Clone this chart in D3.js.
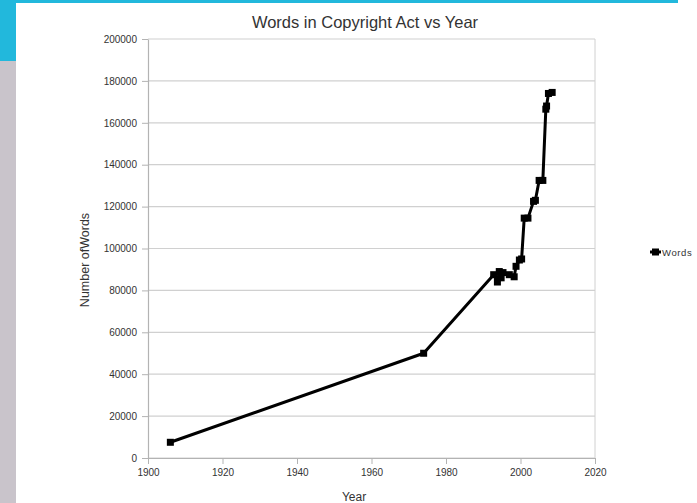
<!DOCTYPE html>
<html>
<head>
<meta charset="utf-8">
<script src="https://cdn.jsdelivr.net/npm/d3@7"></script>
<style>
  body { margin: 0; background: #fff; }
  svg { display: block; font-family: "Liberation Sans", Arial, sans-serif; }
</style>
</head>
<body>
<svg width="697" height="503"></svg>
<script>
// data
const years = [1906, 1974, 1992.8, 1993.8, 1994.3, 1994.8, 1995.3, 1997.0, 1998.3, 1998.8, 1999.7, 2000.3,
               2001.0, 2002.0, 2003.5, 2004.0, 2005.0, 2006.0, 2006.8, 2007.0, 2007.5, 2008.5]
const words = [7500, 50000, 87500, 84000, 89000, 86000, 88500, 87500, 86500, 91500, 94500, 95000,
               114500, 114500, 122500, 123000, 132500, 132500, 166500, 168000, 174000, 174500]
const xTicks = [1900, 1920, 1940, 1960, 1980, 2000, 2020]
const yTicks = [0, 20000, 40000, 60000, 80000, 100000, 120000, 140000, 160000, 180000, 200000]

const points = years.map((y, i) => ({ year: y, words: words[i] }))

const svg = d3.select('svg')

// page decoration around the chart
svg.append('rect').attr('x', 0).attr('y', 0).attr('width', 678).attr('height', 3).attr('fill', '#22b8dc')
svg.append('rect').attr('x', 0).attr('y', 0).attr('width', 16).attr('height', 61).attr('fill', '#22b8dc')
svg.append('rect').attr('x', 0).attr('y', 61).attr('width', 16).attr('height', 442).attr('fill', '#c9c4cb')

const x = d3.scaleLinear().domain([1900, 2020]).range([148, 595])
const y = d3.scaleLinear().domain([0, 200000]).range([458, 39])

// grid
svg.append('g')
    .selectAll('line')
    .data(yTicks)
    .enter()
    .append('line')
    .attr('x1', x(1900)).attr('x2', x(2020))
    .attr('y1', d => y(d)).attr('y2', d => y(d))
    .attr('stroke', '#d0d0d0')
    .attr('stroke-width', 1.2)

// right border
svg.append('line')
    .attr('x1', x(2020)).attr('x2', x(2020))
    .attr('y1', y(200000)).attr('y2', y(0))
    .attr('stroke', '#d0d0d0')

const yAxis = svg.append('g')
    .attr('transform', `translate(${x(1900)},0)`)
    .call(d3.axisLeft(y).tickValues(yTicks).tickFormat(d3.format('d')).tickSize(6).tickSizeOuter(0).tickPadding(5))
yAxis.select('.domain').attr('stroke', '#b3b3b3').attr('stroke-width', 1.2)
yAxis.selectAll('line').attr('stroke', '#b3b3b3')
yAxis.selectAll('text').attr('font-size', 10).attr('fill', '#333').attr('font-family', '"Liberation Sans", Arial, sans-serif')

const xAxis = svg.append('g')
    .attr('transform', `translate(0,${y(0)})`)
    .call(d3.axisBottom(x).tickValues(xTicks).tickFormat(d3.format('d')).tickSize(6).tickSizeOuter(0).tickPadding(5))
xAxis.select('.domain').attr('stroke', '#b3b3b3').attr('stroke-width', 1.2)
xAxis.selectAll('line').attr('stroke', '#b3b3b3')
xAxis.selectAll('text').attr('font-size', 10).attr('fill', '#333').attr('font-family', '"Liberation Sans", Arial, sans-serif')

// line + markers
const line = d3.line().x(d => x(d.year)).y(d => y(d.words))
svg.append('path')
    .datum(points)
    .attr('d', line)
    .attr('fill', 'none')
    .attr('stroke', '#000')
    .attr('stroke-width', 3)
    .attr('stroke-linejoin', 'round')

svg.selectAll('.mark')
    .data(points)
    .enter()
    .append('rect')
    .classed('mark', true)
    .attr('x', d => x(d.year) - 3.5)
    .attr('y', d => y(d.words) - 3.5)
    .attr('width', 7)
    .attr('height', 7)
    .attr('fill', '#000')

// titles
svg.append('text')
    .attr('x', 365).attr('y', 28)
    .attr('text-anchor', 'middle')
    .attr('font-size', 16.5)
    .attr('fill', '#333')
    .text('Words in Copyright Act vs Year')

svg.append('text')
    .attr('x', 354).attr('y', 501)
    .attr('text-anchor', 'middle')
    .attr('font-size', 12)
    .attr('fill', '#333')
    .text('Year')

svg.append('text')
    .attr('transform', 'translate(89,260) rotate(-90)')
    .attr('text-anchor', 'middle')
    .attr('font-size', 12.5)
    .attr('fill', '#333')
    .text('Number ofWords')

// legend
const legend = svg.append('g').attr('transform', 'translate(650,252)')
legend.append('line').attr('x1', 0).attr('x2', 11).attr('y1', 0).attr('y2', 0).attr('stroke', '#000').attr('stroke-width', 3)
legend.append('rect').attr('x', 2).attr('y', -3.5).attr('width', 7).attr('height', 7).attr('fill', '#000')
legend.append('text').attr('x', 12).attr('y', 3.5).attr('font-size', 9.5).attr('letter-spacing', 0.6).attr('fill', '#333').text('Words')
</script>
</body>
</html>
